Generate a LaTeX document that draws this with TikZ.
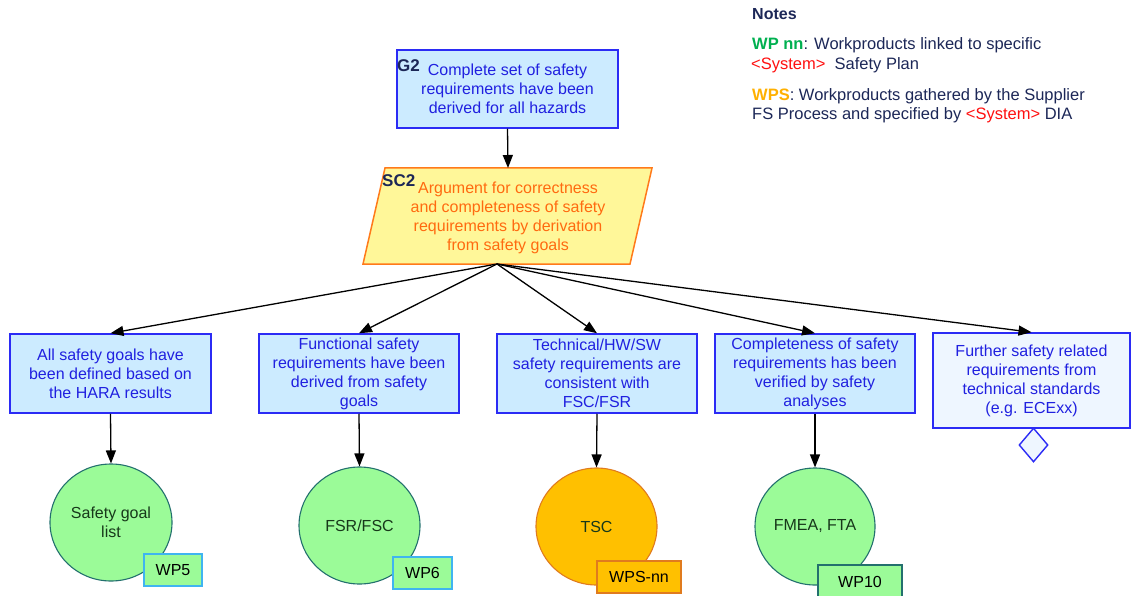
\documentclass[tikz,border=0pt]{standalone}
\usepackage{fontspec}
\setmainfont{Liberation Sans}
\usetikzlibrary{shapes.geometric,arrows.meta}

\definecolor{goalfill}{HTML}{CCEBFF}
\definecolor{goalline}{HTML}{2B2BF5}
\definecolor{goaltext}{HTML}{2020E0}
\definecolor{navy}{HTML}{1C2757}
\definecolor{strfill}{HTML}{FFF799}
\definecolor{strline}{HTML}{FF7A1A}
\definecolor{strtext}{HTML}{FF6A10}
\definecolor{wpgreen}{HTML}{9BFB98}
\definecolor{wpedge}{HTML}{23706E}
\definecolor{wptext}{HTML}{17381A}
\definecolor{wpsfill}{HTML}{FFC000}
\definecolor{wpsedge}{HTML}{E07B1E}
\definecolor{tagedge}{HTML}{3FB4F0}
\definecolor{openfill}{HTML}{EEF6FF}
\definecolor{notegreen}{HTML}{00B050}
\definecolor{noteamber}{HTML}{FFB000}
\definecolor{sysred}{HTML}{FF1010}

\newcommand{\bodyfont}{\fontsize{16}{19}\selectfont}

\tikzset{
  goalbox/.style={draw=goalline, fill=goalfill, line width=1.5pt, text=goaltext,
    minimum width=200pt, minimum height=79pt, inner sep=0pt, align=center, font=\bodyfont},
  openbox/.style={goalbox, fill=openfill},
  tag/.style={font=\fontsize{17}{17}\selectfont\bfseries, text=navy, inner sep=0pt},
  wpnode/.style={ellipse, draw=wpedge, fill=wpgreen, line width=1.1pt,
    minimum width=121pt, minimum height=117pt, inner sep=0pt, text=wptext,
    align=center, font=\bodyfont},
  wpsnode/.style={wpnode, draw=wpsedge, fill=wpsfill},
  wptag/.style={draw=tagedge, fill=wpgreen, line width=1.3pt, minimum height=32pt,
    inner sep=0pt, text=black, font=\bodyfont},
  link/.style={-{Triangle[length=13pt,width=10pt]}, line width=1.3pt, black},
  noteline/.style={anchor=base west, inner sep=0pt, text=navy, font=\fontsize{16.5}{20}\selectfont},
}

\begin{document}
\begin{tikzpicture}[x=1pt, y=-1pt]
\useasboundingbox (0,0) rectangle (1131,596);

% top goal
\node[goalbox, minimum width=221pt, minimum height=78pt] (g2) at (507.5,89)
  {Complete set of safety\\requirements have been\\derived for all hazards};
\node[tag, anchor=base west] (g2id) at (397,72) {G2};

% strategy (parallelogram)
\filldraw[draw=strline, fill=strfill, line width=1.5pt]
  (385,168) -- (652,168) -- (630,264) -- (363,264) -- cycle;
\coordinate (sc2top) at (508,168);
\coordinate (sc2bot) at (497,264);
\node[align=center, text=strtext, font=\bodyfont, inner sep=0pt] (sc2) at (508,218)
  {Argument for correctness\\and completeness of safety\\requirements by derivation\\from safety goals};
\node[tag, anchor=base west] (sc2id) at (382,186) {SC2};

% sub-goals
\node[goalbox, minimum width=201pt] (b1) at (110.5,373.5)
  {All safety goals have\\been defined based on\\the HARA results};
\node[goalbox] (b2) at (359,373.5)
  {Functional safety\\requirements have been\\derived from safety\\goals};
\node[goalbox] (b3) at (597,373.5)
  {Technical/HW/SW\\safety requirements are\\consistent with\\FSC/FSR};
\node[goalbox] (b4) at (815,373.5)
  {Completeness of safety\\requirements has been\\verified by safety\\analyses};
\node[openbox, minimum width=197pt, minimum height=95pt] (b5) at (1031.5,380.5)
  {Further safety related\\requirements from\\technical standards\\(e.g. ECExx)};
\node[diamond, draw=goalline, fill=openfill, line width=1.4pt, inner sep=0pt,
  minimum width=29pt, minimum height=34pt] (d5) at (1033.5,445) {};

% work products
\node[wpnode, minimum width=122pt] (c1) at (111,522.5) {Safety goal\\list};
\node[wpnode] (c2) at (359.5,525.5) {FSR/FSC};
\node[wpsnode] (c3) at (596.5,526.5) {TSC};
\node[wpnode, minimum width=120pt] (c4) at (815,526.5) {FMEA, FTA};

\node[wptag, minimum width=58pt] (t1) at (173,570) {WP5};
\node[wptag, minimum width=59pt] (t2) at (422.5,573) {WP6};
\node[wptag, draw=wpsedge, fill=wpsfill, minimum width=84pt] (t3) at (639,577) {WPS-nn};
\node[wptag, draw=wpedge, line width=1.1pt, minimum width=84pt, minimum height=33pt] (t4) at (860,581.5) {WP10};

% connectors
\draw[link] (g2.south) -- (sc2top);
\foreach \b in {b1,b2,b3,b4,b5} \draw[link] (sc2bot) -- (\b.north);
\draw[link] (b1.south) -- (c1.north);
\draw[link] (b2.south) -- (c2.north);
\draw[link] (b3.south) -- (c3.north);
\draw[link] (b4.south) -- (c4.north);

% notes
\node[anchor=base west, inner sep=0pt, text=navy, font=\fontsize{16}{20}\selectfont\bfseries] (notes) at (752,20) {Notes};
\node[noteline] (n1) at (752,50) {\textcolor{notegreen}{\bfseries WP nn}: Workproducts linked to specific};
\node[noteline] (n2) at (751,69.5) {\textcolor{sysred}{<System>}~ Safety Plan};
\node[noteline] (n3) at (752,100.5) {\textcolor{noteamber}{\bfseries WPS}: Workproducts gathered by the Supplier};
\node[noteline] (n4) at (752,120) {FS Process and specified by \textcolor{sysred}{<System>} DIA};
\end{tikzpicture}
\end{document}
